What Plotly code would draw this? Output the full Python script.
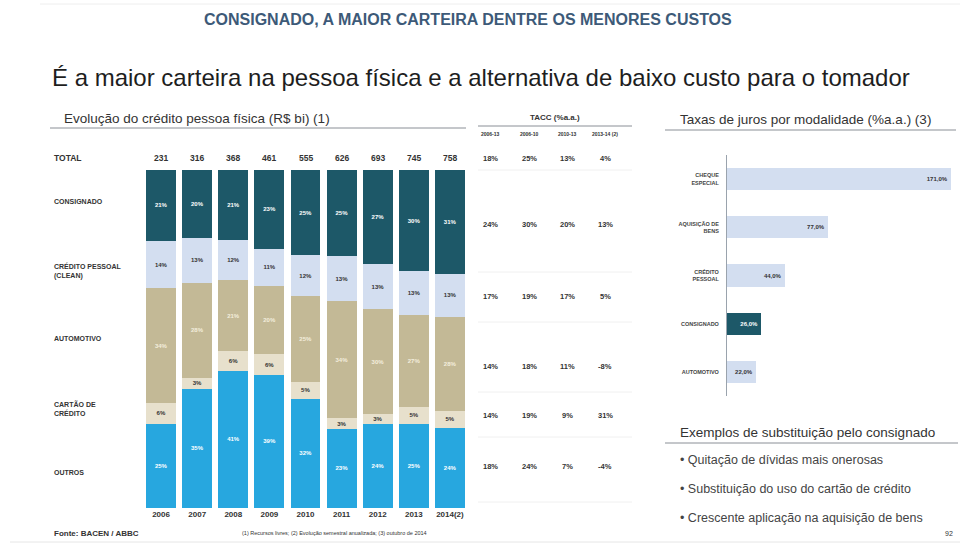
import plotly.graph_objects as go

W, H = 962, 544

# ---------------- data ----------------
years = ["2006", "2007", "2008", "2009", "2010", "2011", "2012", "2013", "2014(2)"]
totals = [231, 316, 368, 461, 555, 626, 693, 745, 758]
consignado = [21, 20, 21, 23, 25, 25, 27, 30, 31]
credito_pessoal = [14, 13, 12, 11, 12, 13, 13, 13, 13]
automotivo = [34, 28, 21, 20, 25, 34, 30, 27, 28]
cartao = [6, 3, 6, 6, 5, 3, 3, 5, 5]
outros = [25, 35, 41, 39, 32, 23, 24, 25, 24]

row_labels = ["TOTAL", "CONSIGNADO", "CRÉDITO PESSOAL<br>(CLEAN)", "AUTOMOTIVO",
              "CARTÃO DE<br>CRÉDITO", "OUTROS"]

tacc_headers = ["2006-13", "2006-10", "2010-13", "2013-14 (2)"]
tacc_total = ["18%", "25%", "13%", "4%"]
tacc_consignado = ["24%", "30%", "20%", "13%"]
tacc_cp = ["17%", "19%", "17%", "5%"]
tacc_auto = ["14%", "18%", "11%", "-8%"]
tacc_cartao = ["14%", "19%", "9%", "31%"]
tacc_outros = ["18%", "24%", "7%", "-4%"]

modalidades = ["CHEQUE<br>ESPECIAL", "AQUISIÇÃO DE<br>BENS", "CRÉDITO<br>PESSOAL",
               "CONSIGNADO", "AUTOMOTIVO"]
taxas = [171.0, 77.0, 44.0, 26.0, 22.0]
taxas_txt = ["171,0%", "77,0%", "44,0%", "26,0%", "22,0%"]

exemplos = ["• Quitação de dívidas mais onerosas",
            "• Substituição do uso do cartão de crédito",
            "• Crescente aplicação na aquisição de bens"]

# ---------------- style ----------------
C_CONS = "#1d5868"
C_CP = "#d3def0"
C_AUTO = "#c3b996"
C_CART = "#e7e0cc"
C_OUT = "#27a7df"
FONT = "Liberation Sans, Arial, sans-serif"


def px(x):
    return x / W


def py(y):
    return 1 - y / H


fig = go.Figure()

# normalise each year to 100 %
sums = [a + b + c + d + e for a, b, c, d, e in
        zip(consignado, credito_pessoal, automotivo, cartao, outros)]

series = [
    ("Outros", outros, C_OUT, "white"),
    ("Cartão de crédito", cartao, C_CART, "#333333"),
    ("Automotivo", automotivo, C_AUTO, "#f3eedd"),
    ("Crédito pessoal", credito_pessoal, C_CP, "#333333"),
    ("Consignado", consignado, C_CONS, "white"),
]
for name, vals, col, tcol in series:
    pct = [v / s * 100 for v, s in zip(vals, sums)]
    fig.add_trace(go.Bar(
        x=years, y=pct, name=name, marker=dict(color=col, line=dict(width=0)),
        width=0.83, text=[f"<b>{v}%</b>" for v in vals], textposition="inside",
        insidetextanchor="middle", textangle=0,
        textfont=dict(size=7.5, color=tcol, family=FONT),
        xaxis="x", yaxis="y", showlegend=False))

cols_r = [C_CP, C_CP, C_CP, C_CONS, C_CP]
tcols_r = ["#333333", "#333333", "#333333", "white", "#333333"]
fig.add_trace(go.Bar(
    x=taxas, y=modalidades, orientation="h", width=0.46,
    marker=dict(color=cols_r, line=dict(width=0)),
    text=[f"<b>{t}</b>" for t in taxas_txt], textposition="inside",
    insidetextanchor="end", textangle=0,
    textfont=dict(size=6, color=tcols_r, family=FONT),
    xaxis="x2", yaxis="y2", showlegend=False))

fig.update_layout(
    width=W, height=H, margin=dict(l=0, r=0, t=0, b=0),
    paper_bgcolor="white", plot_bgcolor="white",
    barmode="stack",
    font=dict(family=FONT, color="#333333"),
    uniformtext=dict(minsize=6, mode="show"),
    xaxis=dict(domain=[px(143), px(468)], range=[-0.5, 8.5], showgrid=False,
               showline=False, ticks="", type="category",
               tickfont=dict(size=8, color="#333333", family=FONT),
               tickprefix="<b>", ticksuffix="</b>",
               anchor="y", fixedrange=True),
    yaxis=dict(domain=[py(508), py(170)], range=[0, 100], visible=False, fixedrange=True),
    xaxis2=dict(domain=[px(727), px(956)], range=[0, 175], visible=False, anchor="y2"),
    yaxis2=dict(domain=[py(396), py(155)], autorange="reversed", anchor="x2",
                showline=True, linecolor="#9aa3ad", linewidth=1, ticks="",
                showgrid=False, tickfont=dict(size=5.5, color="#444444", family=FONT),
                tickprefix="<b>", ticksuffix="</b>",
                ticklabelstandoff=6),
)

ann = []
shapes = []


def text(x, y, s, size, color="#333333", bold=False, xanchor="left", family=FONT):
    if bold:
        s = f"<b>{s}</b>"
    ann.append(dict(x=px(x), y=py(y), xref="paper", yref="paper", text=s,
                    showarrow=False, xanchor=xanchor, yanchor="middle",
                    font=dict(size=size, color=color, family=family), align=xanchor))


def hline(x0, x1, y, color="#8a8f96", width=1):
    shapes.append(dict(type="line", xref="paper", yref="paper", x0=px(x0), x1=px(x1),
                       y0=py(y), y1=py(y), line=dict(color=color, width=width)))


# titles
text(468, 20, "CONSIGNADO, A MAIOR CARTEIRA DENTRE OS MENORES CUSTOS", 16,
     color="#3d5a78", bold=True, xanchor="center")
hline(40, 960, 4, color="#eeeeee")
text(50, 77, "É a maior carteira na pessoa física e a alternativa de baixo custo para o tomador",
     24, color="#1e1e1e")

# section headers
text(62, 118, "Evolução do crédito pessoa física (R$ bi) (1)", 13.5, color="#333333")
hline(50, 466, 128, color="#8a8f96")
text(555, 117, "TACC (%a.a.)", 8, color="#333333", bold=True, xanchor="center")
hline(478, 632, 126, color="#8a8f96")
text(678, 119, "Taxas de juros por modalidade (%a.a.) (3)", 13.5, color="#333333")
hline(665, 956, 130, color="#8a8f96")

# row labels
row_y = [158, 201, 271, 338, 408, 472]
for i, (lab, yy) in enumerate(zip(row_labels, row_y)):
    text(52, yy, lab, 8.5 if i == 0 else 7, color="#333333", bold=True)

# totals above bars
for i, t in enumerate(totals):
    ann.append(dict(x=i, y=py(158), xref="x", yref="paper", text=f"<b>{t}</b>",
                    showarrow=False, xanchor="center", yanchor="middle",
                    font=dict(size=8.5, color="#333333", family=FONT)))

# TACC table
tacc_x = [491, 529, 567, 605]
for hx, h in zip(tacc_x, tacc_headers):
    text(hx, 134, h, 5, color="#333333", bold=True, xanchor="center")
tacc_rows = [tacc_total, tacc_consignado, tacc_cp, tacc_auto, tacc_cartao, tacc_outros]
tacc_y = [158, 224, 296, 366, 415, 466]
for row, yy in zip(tacc_rows, tacc_y):
    for hx, v in zip(tacc_x, row):
        text(hx, yy, v, 7.5, color="#333333", bold=True, xanchor="center")
for yy in [170, 272, 322, 392, 437, 502]:
    hline(478, 632, yy, color="#f0f0f0")

# right lower text
text(678, 432, "Exemplos de substituição pelo consignado", 13.5, color="#333333")
hline(665, 958, 443, color="#8a8f96")
for s, yy in zip(exemplos, [460, 489, 518]):
    text(678, yy, s, 12.5, color="#444444")

# footer
text(52, 533, "Fonte: BACEN / ABBC", 8, color="#333333", bold=True)
text(240, 533, "(1) Recursos livres; (2) Evolução semestral anualizada; (3) outubro de 2014",
     5.5, color="#333333")
text(955, 533, "92", 7, color="#333333", xanchor="right")
hline(10, 960, 542, color="#e6e6e6")

fig.update_layout(annotations=ann, shapes=shapes)
fig.write_html("out.html", config={"displayModeBar": False},
               post_script="document.body.style.margin='0px';")
